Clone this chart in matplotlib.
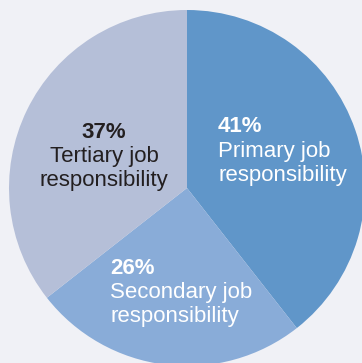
import matplotlib
matplotlib.use("Agg")
import matplotlib.pyplot as plt

categories = ["Primary job responsibility", "Secondary job responsibility", "Tertiary job responsibility"]
values = [41, 26, 37]
pct_labels = ["41%", "26%", "37%"]
name_lines = [["Primary job", "responsibility"],
              ["Secondary job", "responsibility"],
              ["Tertiary job", "responsibility"]]

colors = ["#6096c9", "#89acd8", "#b5bfd8"]
text_colors = ["white", "white", "#231f20"]
bg = "#f0f1f6"

W, H = 362, 363
fig = plt.figure(figsize=(W / 100, H / 100), dpi=100, facecolor=bg)
ax = fig.add_axes([0, 0, 1, 1])
ax.set_facecolor(bg)

cx, cy, r = 187, H - 188, 178
ax.pie(values, colors=colors, startangle=90, counterclock=False,
       center=(cx, cy), radius=r, frame=True,
       wedgeprops=dict(linewidth=0, antialiased=True))
ax.set_xlim(0, W)
ax.set_ylim(0, H)
ax.set_aspect("equal")
ax.axis("off")

# label anchor (x, first baseline y in pixels), alignment
anchors = [(218, 132.5, "left"), (110, 273.5, "left"), (104, 137.5, "center")]
fs = 16.0
lh = 24.3
fam = ["Liberation Sans", "DejaVu Sans"]
for i, (x, y0, ha) in enumerate(anchors):
    ax.text(x, H - y0, pct_labels[i], ha=ha, va="baseline", fontsize=fs,
            fontweight="bold", color=text_colors[i], family=fam)
    for j, line in enumerate(name_lines[i]):
        ax.text(x, H - (y0 + lh * (j + 1)), line, ha=ha, va="baseline",
                fontsize=fs, color=text_colors[i], family=fam)

fig.savefig("out.png", dpi=100, facecolor=bg)
